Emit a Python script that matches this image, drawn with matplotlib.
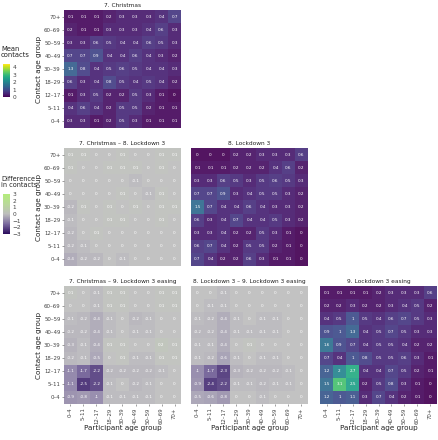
import numpy as np
import matplotlib
matplotlib.use("Agg")
import matplotlib.pyplot as plt
from matplotlib.colors import LinearSegmentedColormap, Normalize
from matplotlib.colorbar import ColorbarBase

age_groups = ["0\u20134", "5\u201311", "12\u201317", "18\u201329", "30\u201339",
              "40\u201349", "50\u201359", "60\u201369", "70+"]

# rows from top (70+) to bottom (0-4), columns participant 0-4 .. 70+
christmas = [
    [0.1, 0.1, 0.1, 0.2, 0.3, 0.3, 0.3, 0.4, 0.7],
    [0.2, 0.1, 0.1, 0.3, 0.3, 0.3, 0.4, 0.6, 0.3],
    [0.3, 0.3, 0.6, 0.5, 0.4, 0.4, 0.6, 0.5, 0.3],
    [0.7, 0.7, 0.9, 0.4, 0.4, 0.6, 0.4, 0.3, 0.2],
    [1.3, 0.8, 0.4, 0.5, 0.6, 0.5, 0.4, 0.4, 0.3],
    [0.6, 0.3, 0.4, 0.8, 0.5, 0.4, 0.5, 0.4, 0.2],
    [0.1, 0.3, 0.5, 0.2, 0.2, 0.5, 0.3, 0.1, 0],
    [0.4, 0.6, 0.4, 0.2, 0.5, 0.5, 0.2, 0.1, 0.1],
    [0.3, 0.3, 0.1, 0.2, 0.5, 0.3, 0.1, 0.1, 0.1],
]

lockdown3 = [
    [0, 0, 0, 0.2, 0.2, 0.3, 0.3, 0.3, 0.6],
    [0.1, 0.1, 0.1, 0.2, 0.2, 0.2, 0.4, 0.6, 0.2],
    [0.3, 0.3, 0.6, 0.5, 0.3, 0.5, 0.6, 0.5, 0.3],
    [0.7, 0.7, 0.9, 0.3, 0.4, 0.5, 0.5, 0.3, 0.2],
    [1.5, 0.7, 0.4, 0.4, 0.6, 0.4, 0.3, 0.3, 0.2],
    [0.6, 0.3, 0.4, 0.7, 0.4, 0.4, 0.5, 0.3, 0.2],
    [0.3, 0.3, 0.4, 0.2, 0.2, 0.5, 0.3, 0.1, 0],
    [0.6, 0.7, 0.4, 0.2, 0.5, 0.5, 0.2, 0.1, 0],
    [0.7, 0.4, 0.2, 0.2, 0.6, 0.3, 0.1, 0.1, 0],
]

easing = [
    [0.1, 0.1, 0.1, 0.1, 0.2, 0.3, 0.3, 0.3, 0.6],
    [0.2, 0.2, 0.3, 0.2, 0.2, 0.3, 0.4, 0.5, 0.2],
    [0.4, 0.5, 1, 0.5, 0.4, 0.6, 0.7, 0.5, 0.3],
    [0.9, 1, 1.3, 0.4, 0.5, 0.7, 0.5, 0.3, 0.3],
    [1.6, 0.9, 0.7, 0.4, 0.5, 0.5, 0.4, 0.2, 0.2],
    [0.7, 0.4, 1, 0.8, 0.5, 0.5, 0.6, 0.3, 0.1],
    [1.2, 2, 2.7, 0.4, 0.4, 0.7, 0.5, 0.2, 0.1],
    [1.5, 3.1, 2.5, 0.2, 0.5, 0.8, 0.3, 0.1, 0],
    [1.2, 1, 1.1, 0.3, 0.7, 0.4, 0.2, 0.1, 0],
]

diff_7_8 = [
    [0.1, 0.1, 0, 0, 0.1, 0, 0, 0.1, 0.1],
    [0.1, 0, 0, 0.1, 0.1, 0.1, 0, 0.1, 0],
    [0, 0, 0, 0, 0, -0.1, 0, 0, 0],
    [0, 0, 0, 0, 0.1, 0, -0.1, 0.1, 0],
    [-0.2, 0.1, 0, 0.1, 0, 0.1, 0, 0.1, 0.1],
    [-0.1, 0, 0, 0.1, 0.1, 0, 0, 0.1, 0],
    [-0.2, 0, 0.1, 0, 0, 0, 0, 0, 0],
    [-0.2, -0.1, 0, 0, 0, 0, 0, 0, 0],
    [-0.4, -0.2, -0.2, 0, -0.1, 0, 0, 0, 0],
]

diff_7_9 = [
    [0.1, 0, -0.1, 0.1, 0.1, 0, 0, 0.1, 0.1],
    [0, 0, -0.1, 0.1, 0.1, 0, 0, 0.1, 0.1],
    [-0.1, -0.2, -0.4, -0.1, 0, -0.2, -0.1, 0, 0],
    [-0.2, -0.2, -0.4, -0.1, 0, -0.1, -0.1, 0, 0],
    [-0.3, -0.1, -0.4, 0.1, 0.1, 0, 0, 0.2, 0.1],
    [-0.2, -0.1, -0.5, 0, 0.1, -0.1, -0.1, 0.1, 0.1],
    [-1.1, -1.7, -2.2, -0.2, -0.2, -0.2, -0.2, -0.1, 0],
    [-1.1, -2.5, -2.2, -0.1, 0, -0.2, -0.1, 0, 0],
    [-0.9, -0.8, -1, -0.1, -0.1, -0.1, -0.1, 0, 0],
]

diff_8_9 = [
    [0, 0, -0.1, 0, 0, 0, 0, 0, 0],
    [0, -0.1, -0.1, 0, 0, 0, 0, 0, 0],
    [-0.1, -0.2, -0.4, -0.1, 0, -0.1, -0.1, 0, 0],
    [-0.2, -0.2, -0.4, -0.1, -0.1, -0.1, -0.1, 0, 0],
    [-0.1, -0.1, -0.4, 0, 0.1, 0, 0, 0, 0],
    [-0.1, -0.2, -0.6, -0.1, 0, -0.1, -0.1, 0, 0],
    [-1, -1.7, -2.3, -0.3, -0.2, -0.2, -0.2, -0.1, 0],
    [-0.9, -2.4, -2.2, -0.1, -0.1, -0.2, -0.1, -0.1, 0],
    [-0.5, -0.6, -0.8, 0, 0, -0.1, 0, 0, 0],
]

mean_cmap = plt.get_cmap("viridis")
mean_norm = Normalize(0, 4.4)
diff_cmap = LinearSegmentedColormap.from_list(
    "diff", ["#2a0b5c", "#7a6a9e", "#bdbdbd", "#b9d99a", "#b3ec7a"])
diff_norm = Normalize(-3, 3)

fig = plt.figure(figsize=(4.39, 4.40), dpi=100)

xs = [64, 191, 320]
ys = [10, 148, 286]
w, h = 117, 118


def add_panel(col, row, data, title, kind):
    ax = fig.add_axes([xs[col] / 439, 1 - (ys[row] + h) / 440, w / 439, h / 440])
    arr = np.array(data)[::-1]  # bottom row first
    if kind == "mean":
        cmap, norm = mean_cmap, mean_norm
    else:
        cmap, norm = diff_cmap, diff_norm
    ax.pcolormesh(np.arange(10), np.arange(10), arr, cmap=cmap, norm=norm, alpha=0.92)
    for i in range(9):
        for j in range(9):
            v = arr[i, j]
            txt = "0" if v == 0 else f"{v:g}"
            ax.text(j + 0.5, i + 0.5, txt, ha="center", va="center",
                    fontsize=3.0, color="white")
    ax.set_xlim(0, 9)
    ax.set_ylim(0, 9)
    ax.set_title(title, fontsize=4.2, color="#222222", pad=2)
    for s in ax.spines.values():
        s.set_visible(False)
    ax.set_xticks(np.arange(9) + 0.5)
    ax.set_yticks(np.arange(9) + 0.5)
    ax.tick_params(length=1.2, width=0.4, color="#555555", labelsize=3.9,
                   labelcolor="#444444", pad=1.2)
    if row == 2:
        ax.set_xticklabels(age_groups, rotation=90)
        ax.set_xlabel("Participant age group", fontsize=5.2, labelpad=0.5, color="#222222")
    else:
        ax.set_xticklabels([])
        ax.tick_params(axis="x", length=0)
    if col == 0:
        ax.set_yticklabels(age_groups)
        ax.set_ylabel("Contact age group", fontsize=5.2, labelpad=1.5, color="#222222")
    else:
        ax.set_yticklabels([])
        ax.tick_params(axis="y", length=0)
    return ax


add_panel(0, 0, christmas, "7. Christmas", "mean")
add_panel(0, 1, diff_7_8, "7. Christmas \u2013 8. Lockdown 3", "diff")
add_panel(1, 1, lockdown3, "8. Lockdown 3", "mean")
add_panel(0, 2, diff_7_9, "7. Christmas \u2013 9. Lockdown 3 easing", "diff")
add_panel(1, 2, diff_8_9, "8. Lockdown 3 \u2013 9. Lockdown 3 easing", "diff")
add_panel(2, 2, easing, "9. Lockdown 3 easing", "mean")

# legends
cax1 = fig.add_axes([3 / 439, 1 - 97 / 440, 7 / 439, 33 / 440])
cb1 = ColorbarBase(cax1, cmap=mean_cmap, norm=mean_norm, ticks=[0, 1, 2, 3, 4])
cb1.outline.set_visible(False)
cax1.tick_params(length=0, labelsize=4.2, labelcolor="#444444", pad=2)
fig.text(1 / 439, 1 - 46 / 440, "Mean\ncontacts", fontsize=4.9, va="top",
         ha="left", color="#222222", linespacing=1.0)

cax2 = fig.add_axes([3 / 439, 1 - 234 / 440, 7 / 439, 40 / 440])
cb2 = ColorbarBase(cax2, cmap=diff_cmap, norm=diff_norm, ticks=[-3, -2, -1, 0, 1, 2, 3])
cb2.outline.set_visible(False)
cax2.tick_params(length=0, labelsize=4.2, labelcolor="#444444", pad=2)
fig.text(1 / 439, 1 - 176 / 440, "Difference\nin contacts", fontsize=4.7, va="top",
         ha="left", color="#222222", linespacing=1.0)

fig.savefig("out.png", dpi=100)
